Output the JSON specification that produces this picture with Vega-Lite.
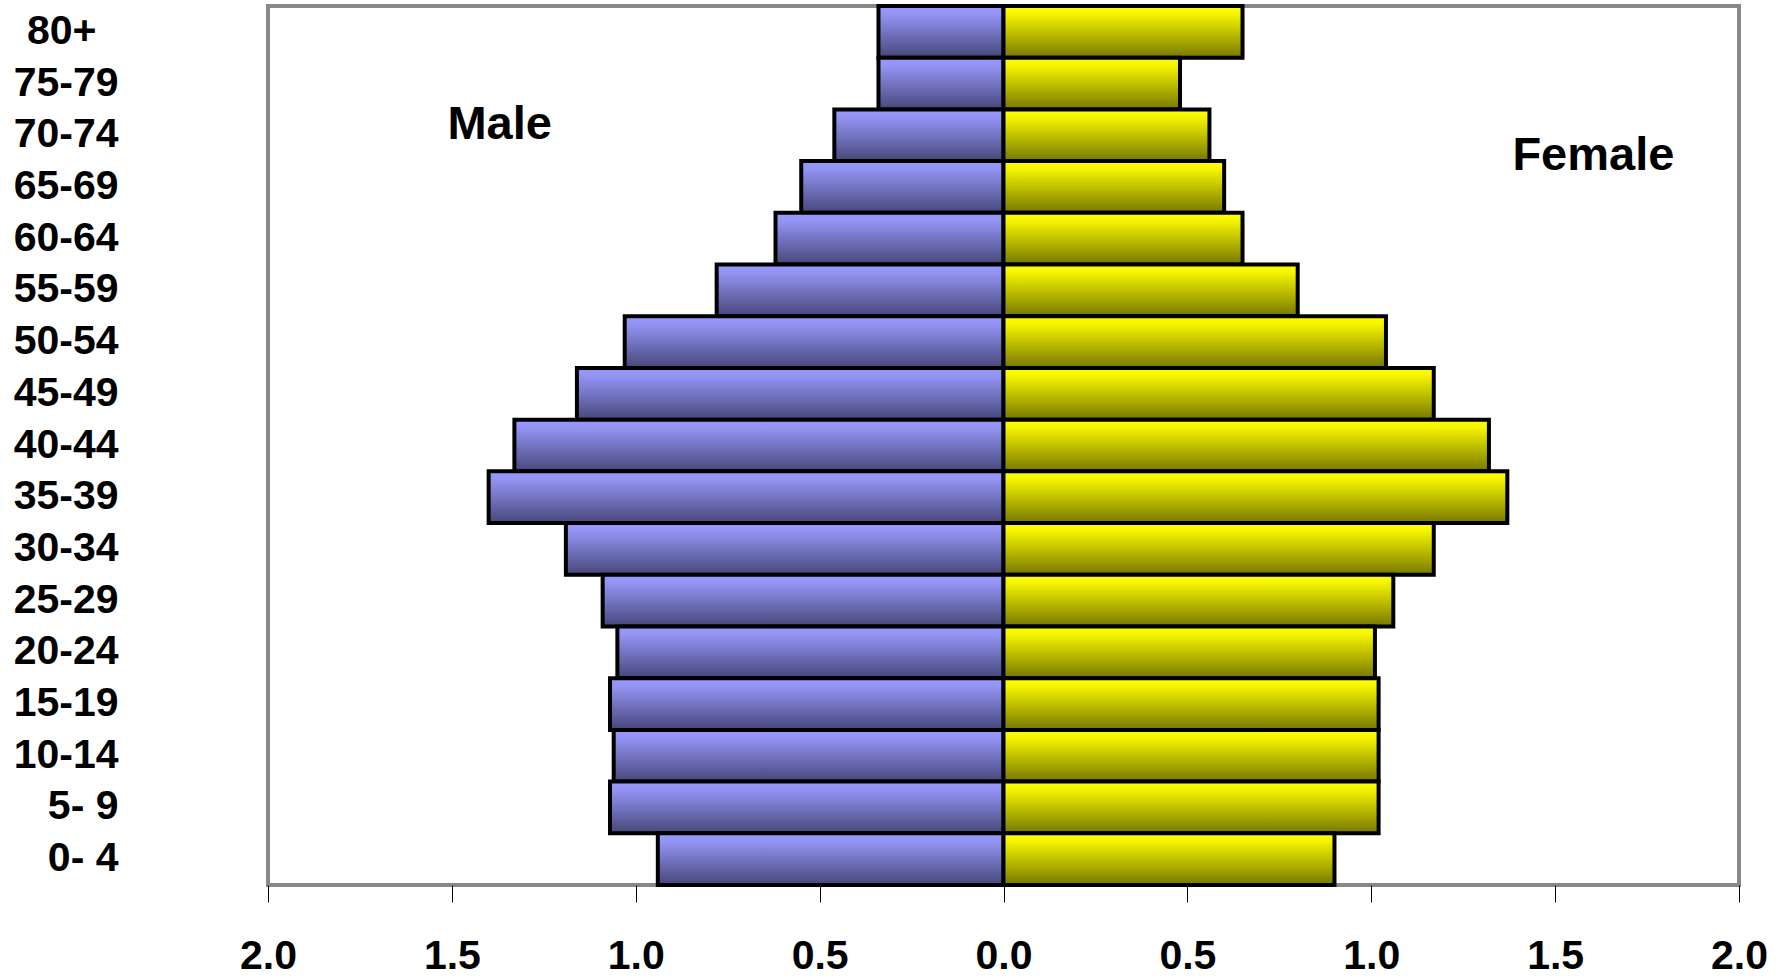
{
  "$schema": "https://vega.github.io/schema/vega-lite/v6.json",
  "width": 1471,
  "height": 879,
  "autosize": "none",
  "padding": {"left": 268, "top": 6, "right": 51, "bottom": 93},
  "background": "white",
  "config": {
    "view": {"stroke": "#888888", "strokeWidth": 4},
    "font": "Liberation Sans Narrow, Arial Narrow, Liberation Sans, Arial, sans-serif"
  },
  "data": {
    "values": [
      {"age": "80+", "male": -0.34, "female": 0.65},
      {"age": "75-79", "male": -0.34, "female": 0.48},
      {"age": "70-74", "male": -0.46, "female": 0.56},
      {"age": "65-69", "male": -0.55, "female": 0.60},
      {"age": "60-64", "male": -0.62, "female": 0.65},
      {"age": "55-59", "male": -0.78, "female": 0.80},
      {"age": "50-54", "male": -1.03, "female": 1.04},
      {"age": "45-49", "male": -1.16, "female": 1.17},
      {"age": "40-44", "male": -1.33, "female": 1.32},
      {"age": "35-39", "male": -1.40, "female": 1.37},
      {"age": "30-34", "male": -1.19, "female": 1.17},
      {"age": "25-29", "male": -1.09, "female": 1.06},
      {"age": "20-24", "male": -1.05, "female": 1.01},
      {"age": "15-19", "male": -1.07, "female": 1.02},
      {"age": "10-14", "male": -1.06, "female": 1.02},
      {"age": "5- 9", "male": -1.07, "female": 1.02},
      {"age": "0- 4", "male": -0.94, "female": 0.90}
    ]
  },
  "encoding": {
    "y": {
      "field": "age",
      "type": "nominal",
      "sort": ["80+", "75-79", "70-74", "65-69", "60-64", "55-59", "50-54", "45-49", "40-44", "35-39", "30-34", "25-29", "20-24", "15-19", "10-14", "5- 9", "0- 4"],
      "scale": {"paddingInner": 0, "paddingOuter": 0},
      "axis": {
        "title": null,
        "domain": false,
        "ticks": false,
        "labelPadding": {"condition": {"test": "datum.value == '80+'", "value": 172}, "value": 150},
        "labelFontSize": 41,
        "labelFontWeight": "bold",
        "labelColor": "black",
        "labelAlign": "right",
        "labelBaseline": "middle"
      }
    }
  },
  "layer": [
    {
      "mark": {
        "type": "bar",
        "stroke": "black",
        "strokeWidth": 4,
        "fill": {"gradient": "linear", "x1": 0, "y1": 0, "x2": 0, "y2": 1, "stops": [{"offset": 0, "color": "#9999ff"}, {"offset": 0.15, "color": "#9494f5"}, {"offset": 1, "color": "#47477a"}]}
      },
      "encoding": {
        "x": {
          "field": "male",
          "type": "quantitative",
          "scale": {"domain": [-2, 2], "nice": false, "zero": true},
          "axis": {
            "title": null,
            "domain": false,
            "grid": false,
            "values": [-2, -1.5, -1, -0.5, 0, 0.5, 1, 1.5, 2],
            "labelExpr": "format(abs(datum.value), '.1f')",
            "tickColor": "black",
            "tickWidth": 1,
            "tickSize": 17,
            "labelPadding": 34,
            "labelFontSize": 41,
            "labelFontWeight": "bold",
            "labelColor": "black",
            "labelFlush": false,
            "labelOverlap": false
          }
        }
      }
    },
    {
      "mark": {
        "type": "bar",
        "stroke": "black",
        "strokeWidth": 4,
        "fill": {"gradient": "linear", "x1": 0, "y1": 0, "x2": 0, "y2": 1, "stops": [{"offset": 0, "color": "#ffff00"}, {"offset": 0.15, "color": "#f5f500"}, {"offset": 1, "color": "#777700"}]}
      },
      "encoding": {
        "x": {"field": "female", "type": "quantitative"}
      }
    },
    {
      "data": {"values": [{}]},
      "mark": {"type": "text", "text": "Male", "fontSize": 47, "fontWeight": "bold", "color": "black", "align": "center", "baseline": "alphabetic", "dy": 4},
      "encoding": {
        "x": {"datum": -1.37, "type": "quantitative"},
        "y": {"datum": "70-74", "type": "nominal"}
      }
    },
    {
      "data": {"values": [{}]},
      "mark": {"type": "text", "text": "Female", "fontSize": 47, "fontWeight": "bold", "color": "black", "align": "center", "baseline": "alphabetic", "dy": 35},
      "encoding": {
        "x": {"datum": 1.604, "type": "quantitative"},
        "y": {"datum": "70-74", "type": "nominal"}
      }
    }
  ]
}
